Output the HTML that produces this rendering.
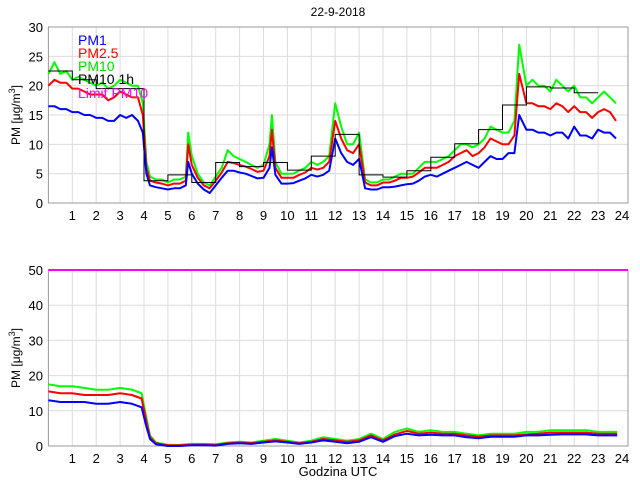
<!DOCTYPE html>
<html><head><meta charset="utf-8"><style>
body{margin:0;background:#fff;width:640px;height:480px;overflow:hidden}
svg{display:block;font-family:"Liberation Sans",sans-serif}
</style></head><body>
<svg id="chart" width="640" height="480" xmlns="http://www.w3.org/2000/svg">
<text x="338" y="16" font-size="12" text-anchor="middle">22-9-2018</text>
<text x="338" y="476" font-size="13" text-anchor="middle">Godzina UTC</text>
<g id="top"></g>
<g id="bot"></g>
</svg>
<script>
// ---- top panel data ----
const topTimes = [0,0.25,0.5,0.75,1,1.25,1.5,1.75,2,2.25,2.5,2.75,3,3.25,3.5,3.75,3.95,4.1,4.25,4.5,4.75,5,5.25,5.5,5.75,5.85,6,6.25,6.5,6.75,7,7.25,7.5,7.75,8,8.25,8.5,8.75,9,9.25,9.35,9.5,9.75,10,10.25,10.5,10.75,11,11.25,11.5,11.75,12,12.25,12.5,12.75,13,13.25,13.5,13.75,14,14.25,14.5,14.75,15,15.25,15.5,15.75,16,16.25,16.5,16.75,17,17.25,17.5,17.75,18,18.25,18.5,18.75,19,19.25,19.5,19.7,20,20.25,20.5,20.75,21,21.25,21.5,21.75,22,22.25,22.5,22.75,23,23.25,23.5,23.75];
const topPM10 = [22,24,22,22.5,21,21.5,21,20.5,20,20.5,19.5,20,21,20.5,20,20,17,7,4.5,4,4,3.5,4,4,4.5,12,8,5,3.5,3,4.5,6,9,8,7.5,7,6.5,6,6.5,10,15,7,5,5,5,5.5,6,7,6.5,7,8,17,13,10,10,12,4,3.5,3.5,4,4,4.5,5,5,5,6,7,7,7,7.5,8,9,10,10,9.5,10,11,13,12.5,12,12,14,27,20,21,20,20,19,21,20,19,20,18,18,17,18,19,18,17];
const topPM25 = [20,21,20.5,20.5,19.5,19.5,19,18.5,18.5,18.5,17.5,18,19,18.5,18,18,15,6,3.8,3.5,3.3,3,3.3,3.3,3.8,10,6.5,4.3,3,2.5,3.8,5.2,7,6.8,6.5,6.2,5.8,5.3,5.5,8,12.5,6,4.3,4.3,4.3,4.8,5.2,6,5.7,6,7,14,11,9,8.5,10,3.5,3,3,3.5,3.5,3.8,4.3,4.3,4.5,5.2,6,6,6,6.5,7,8,8.5,9,8,8.5,9.5,11,10.5,10,10,11.5,22,17,17,16.5,16.5,16,17,16.5,15.5,16.5,15.5,15.5,14.5,15.5,16,15.5,14];
const topPM1 = [16.5,16.5,16,16,15.5,15.5,15,15,14.5,14.5,14,14,15,14.5,15,14,12,5,3,2.7,2.5,2.3,2.5,2.5,3,7,5,3.3,2.3,1.7,3,4.3,5.5,5.5,5.2,5,4.6,4.2,4.3,6,9.5,4.8,3.3,3.3,3.4,3.8,4.2,4.8,4.5,4.8,5.5,11,8.5,7,6.5,7.5,2.5,2.3,2.3,2.7,2.7,2.8,3,3.2,3.3,3.8,4.5,4.8,4.5,5,5.5,6,6.5,7,6.5,6,7,8,7.5,7.5,8.5,8.5,15,12.5,12.5,12,12,11.5,12,12,11,13,11.5,11.5,11,12.5,12,12,11];
const hourly = [22.5,21,19.5,19.5,3.8,4.8,3.5,6.9,6.2,6.9,5.6,8,11.7,4.8,4.4,5.5,7.8,10.1,12.5,16.7,19.8,19.6,18.8];
const topTicksY = [0,5,10,15,20,25,30];
// ---- bottom panel data ----
const botTimes = [0,0.5,1,1.5,2,2.5,3,3.5,3.9,4.1,4.25,4.5,5,5.5,6,6.5,7,7.5,8,8.5,9,9.5,10,10.5,11,11.5,12,12.5,13,13.5,14,14.5,15,15.5,16,16.5,17,17.5,18,18.5,19,19.5,20,20.5,21,21.5,22,22.5,23,23.5,23.8];
const botPM10 = [17.5,17,17,16.5,16,16,16.5,16,15,8,3,1,0.3,0.3,0.6,0.6,0.5,1,1.2,1,1.5,2,1.5,1,1.5,2.5,2,1.5,2,3.5,2,4,5,4,4.5,4,4,3.5,3,3.5,3.5,3.5,4,4,4.5,4.5,4.5,4.5,4,4,4];
const botPM25 = [15.5,15,15,14.5,14.5,14.5,15,14.5,13.5,7,2.5,0.8,0.2,0.2,0.4,0.4,0.3,0.8,1,0.8,1.2,1.6,1.2,0.8,1.2,2,1.6,1.2,1.6,3,1.6,3.3,4.3,3.5,3.8,3.5,3.5,3,2.6,3,3,3,3.3,3.5,3.8,3.8,3.8,3.8,3.5,3.5,3.5];
const botPM1 = [13,12.5,12.5,12.5,12,12,12.5,12,11,5.5,2,0.5,0,0,0.2,0.2,0.1,0.6,0.8,0.6,1,1.3,1,0.6,1,1.6,1.2,0.8,1.2,2.5,1.2,2.8,3.5,3,3.2,3,3,2.5,2.2,2.6,2.6,2.6,3,3,3.2,3.3,3.3,3.3,3,3,3];
const botTicksY = [0,10,20,30,40,50];
const limitPM10 = 50;
const xTicks = [1,2,3,4,5,6,7,8,9,10,11,12,13,14,15,16,17,18,19,20,21,22,23,24];

const NS='http://www.w3.org/2000/svg';
function mk(tag,attrs,parent){const e=document.createElementNS(NS,tag);for(const k in attrs)e.setAttribute(k,attrs[k]);parent.appendChild(e);return e;}
const X0=48.4, PXH=23.9, XR=628;
function xs(t){return X0+t*PXH;}

function panel(g,top,bottom,ymax,ticks,name){
  const ys=v=>bottom-(v/ymax)*(bottom-top);
  for(const t of xTicks){
    if(t<24){const l=mk('line',{x1:xs(t),x2:xs(t),y1:top,y2:bottom,stroke:'#dcdcdc','stroke-width':1},g);
    
    }
    const tx=mk('text',{x:xs(t),y:bottom+17,'font-size':13,'text-anchor':'middle'},g);tx.textContent=t;
    
    
  }
  for(const v of ticks){
    const l=mk('line',{x1:X0,x2:XR,y1:ys(v),y2:ys(v),stroke:'#dcdcdc','stroke-width':1},g);
    
    
    const tx=mk('text',{x:43,y:ys(v)+5,'font-size':13,'text-anchor':'end'},g);tx.textContent=v;
    
    
  }
  const r=mk('rect',{x:X0,y:top,width:XR-X0,height:bottom-top,fill:'none',stroke:'#999','stroke-width':1},g);
  
  
  const yl=mk('text',{transform:`translate(20,${(top+bottom)/2}) rotate(-90)`,'font-size':12,'text-anchor':'middle'},g);
  yl.innerHTML='PM [μg/m<tspan dy="-5" font-size="9">3</tspan><tspan dy="5">]</tspan>';
  
  
  return ys;
}
function line(g,times,vals,ys,color,name){
  const d=times.map((t,i)=>(i?'L':'M')+xs(t).toFixed(1)+','+ys(vals[i]).toFixed(1)).join('');
  const p=mk('path',{d:d,fill:'none',stroke:color,'stroke-width':2,'stroke-linejoin':'round'},g);
  
  
}
const gt=document.getElementById('top');
const ysT=panel(gt,27,203,30,topTicksY,'top');
line(gt,topTimes,topPM10,ysT,'#00ff00','pm10-series');
line(gt,topTimes,topPM25,ysT,'#ff0000','pm25-series');
line(gt,topTimes,topPM1,ysT,'#0000ff','pm1-series');
let hd='';hourly.forEach((v,h)=>{hd+=(h?'L':'M')+xs(h)+','+ysT(v)+'L'+xs(h+1)+','+ysT(v);});
const hp=mk('path',{d:hd,fill:'none',stroke:'#000','stroke-width':1},gt);


const leg=[['PM1','#0000ff',45],['PM2.5','#ff0000',58],['PM10','#00dd00',71],['PM10 1h','#000',84],['Limit PM10','#ff00ff',98]];
for(const [t,c,y] of leg){const e=mk('text',{x:78,y:y,'font-size':14,fill:c},gt);e.textContent=t;

}

const gb=document.getElementById('bot');
const ysB=panel(gb,270,446,50,botTicksY,'bottom');
line(gb,botTimes,botPM10,ysB,'#00ff00','pm10-series-bottom');
line(gb,botTimes,botPM25,ysB,'#ff0000','pm25-series-bottom');
line(gb,botTimes,botPM1,ysB,'#0000ff','pm1-series-bottom');
const lim=mk('line',{x1:X0,x2:XR,y1:ysB(limitPM10),y2:ysB(limitPM10),stroke:'#ff00ff','stroke-width':2},gb);


</script>
</body></html>
